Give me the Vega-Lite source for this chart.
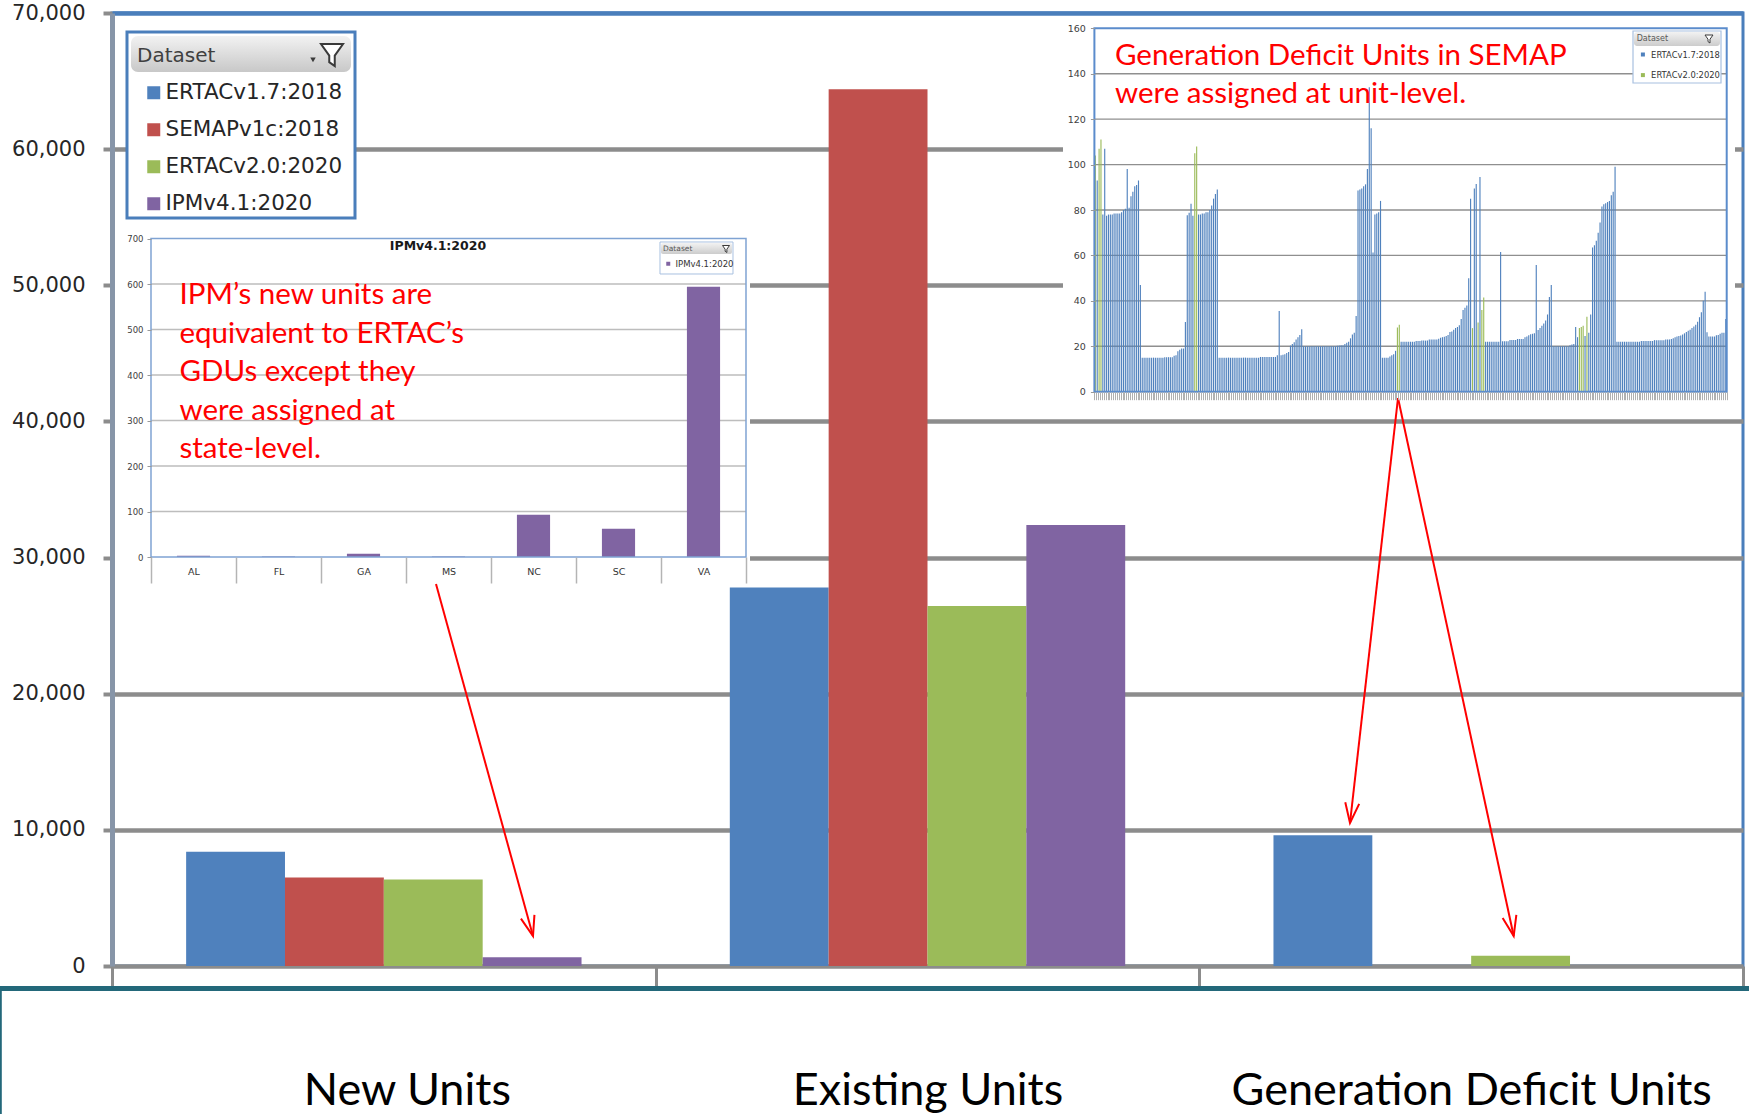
{
  "$schema": "https://vega.github.io/schema/vega-lite/v6.json",
  "width": 1631,
  "height": 953,
  "autosize": {"type": "none"},
  "padding": {"left": 112, "top": 13, "right": 6, "bottom": 148},
  "background": "#ffffff",
  "config": {
    "view": {"stroke": "#4a7ebb", "strokeWidth": 3},
    "font": "DejaVu Sans"
  },
  "data": {"values": [{}]},
  "datasets": {
    "summary": [
      {"category": "New Units", "dataset": "ERTACv1.7:2018", "value": 8400},
      {"category": "New Units", "dataset": "SEMAPv1c:2018", "value": 6500},
      {"category": "New Units", "dataset": "ERTACv2.0:2020", "value": 6350},
      {"category": "New Units", "dataset": "IPMv4.1:2020", "value": 650},
      {"category": "Existing Units", "dataset": "ERTACv1.7:2018", "value": 27800},
      {"category": "Existing Units", "dataset": "SEMAPv1c:2018", "value": 64400},
      {"category": "Existing Units", "dataset": "ERTACv2.0:2020", "value": 26450},
      {"category": "Existing Units", "dataset": "IPMv4.1:2020", "value": 32400},
      {"category": "Generation Deficit Units", "dataset": "ERTACv1.7:2018", "value": 9600},
      {"category": "Generation Deficit Units", "dataset": "ERTACv2.0:2020", "value": 750}
    ],
    "ipmByState": [
      {"state": "AL", "dataset": "IPMv4.1:2020", "value": 3},
      {"state": "FL", "dataset": "IPMv4.1:2020", "value": 1},
      {"state": "GA", "dataset": "IPMv4.1:2020", "value": 7},
      {"state": "MS", "dataset": "IPMv4.1:2020", "value": 1},
      {"state": "NC", "dataset": "IPMv4.1:2020", "value": 93},
      {"state": "SC", "dataset": "IPMv4.1:2020", "value": 62},
      {"state": "VA", "dataset": "IPMv4.1:2020", "value": 594}
    ],
    "ipmGrid": [{"tick": 100}, {"tick": 200}, {"tick": 300}, {"tick": 400}, {"tick": 500}, {"tick": 600}],
    "gduGrid": [{"tick": 20}, {"tick": 40}, {"tick": 60}, {"tick": 80}, {"tick": 100}, {"tick": 120}, {"tick": 140}],
    "gduByUnit": [
      {"unit": 1, "dataset": "ERTACv2.0:2020", "value": 104},
      {"unit": 2, "dataset": "ERTACv1.7:2018", "value": 93},
      {"unit": 3, "dataset": "ERTACv2.0:2020", "value": 107},
      {"unit": 4, "dataset": "ERTACv2.0:2020", "value": 111},
      {"unit": 5, "dataset": "ERTACv1.7:2018", "value": 78},
      {"unit": 6, "dataset": "ERTACv1.7:2018", "value": 107},
      {"unit": 7, "dataset": "ERTACv1.7:2018", "value": 77.5},
      {"unit": 8, "dataset": "ERTACv1.7:2018", "value": 78},
      {"unit": 9, "dataset": "ERTACv1.7:2018", "value": 78},
      {"unit": 10, "dataset": "ERTACv1.7:2018", "value": 78},
      {"unit": 11, "dataset": "ERTACv1.7:2018", "value": 78.5},
      {"unit": 12, "dataset": "ERTACv1.7:2018", "value": 78.5},
      {"unit": 13, "dataset": "ERTACv1.7:2018", "value": 78.5},
      {"unit": 14, "dataset": "ERTACv1.7:2018", "value": 78.5},
      {"unit": 15, "dataset": "ERTACv1.7:2018", "value": 79},
      {"unit": 16, "dataset": "ERTACv1.7:2018", "value": 80},
      {"unit": 17, "dataset": "ERTACv1.7:2018", "value": 80.5},
      {"unit": 18, "dataset": "ERTACv1.7:2018", "value": 98},
      {"unit": 19, "dataset": "ERTACv1.7:2018", "value": 81},
      {"unit": 20, "dataset": "ERTACv1.7:2018", "value": 86},
      {"unit": 21, "dataset": "ERTACv1.7:2018", "value": 88},
      {"unit": 22, "dataset": "ERTACv1.7:2018", "value": 90.5},
      {"unit": 23, "dataset": "ERTACv1.7:2018", "value": 91},
      {"unit": 24, "dataset": "ERTACv1.7:2018", "value": 93},
      {"unit": 25, "dataset": "ERTACv1.7:2018", "value": 47},
      {"unit": 26, "dataset": "ERTACv1.7:2018", "value": 15},
      {"unit": 27, "dataset": "ERTACv1.7:2018", "value": 15},
      {"unit": 28, "dataset": "ERTACv1.7:2018", "value": 15},
      {"unit": 29, "dataset": "ERTACv1.7:2018", "value": 15},
      {"unit": 30, "dataset": "ERTACv1.7:2018", "value": 15},
      {"unit": 31, "dataset": "ERTACv1.7:2018", "value": 15},
      {"unit": 32, "dataset": "ERTACv1.7:2018", "value": 15},
      {"unit": 33, "dataset": "ERTACv1.7:2018", "value": 15},
      {"unit": 34, "dataset": "ERTACv1.7:2018", "value": 15},
      {"unit": 35, "dataset": "ERTACv1.7:2018", "value": 15},
      {"unit": 36, "dataset": "ERTACv1.7:2018", "value": 15},
      {"unit": 37, "dataset": "ERTACv1.7:2018", "value": 15},
      {"unit": 38, "dataset": "ERTACv1.7:2018", "value": 15.2},
      {"unit": 39, "dataset": "ERTACv1.7:2018", "value": 15.2},
      {"unit": 40, "dataset": "ERTACv1.7:2018", "value": 15.2},
      {"unit": 41, "dataset": "ERTACv1.7:2018", "value": 15.2},
      {"unit": 42, "dataset": "ERTACv1.7:2018", "value": 15.2},
      {"unit": 43, "dataset": "ERTACv1.7:2018", "value": 15.8},
      {"unit": 44, "dataset": "ERTACv1.7:2018", "value": 16},
      {"unit": 45, "dataset": "ERTACv1.7:2018", "value": 17.8},
      {"unit": 46, "dataset": "ERTACv1.7:2018", "value": 18.5},
      {"unit": 47, "dataset": "ERTACv1.7:2018", "value": 19},
      {"unit": 48, "dataset": "ERTACv1.7:2018", "value": 19},
      {"unit": 49, "dataset": "ERTACv1.7:2018", "value": 30.7},
      {"unit": 50, "dataset": "ERTACv1.7:2018", "value": 77.7},
      {"unit": 51, "dataset": "ERTACv1.7:2018", "value": 78.8},
      {"unit": 52, "dataset": "ERTACv1.7:2018", "value": 82.7},
      {"unit": 53, "dataset": "ERTACv1.7:2018", "value": 77.5},
      {"unit": 54, "dataset": "ERTACv2.0:2020", "value": 105},
      {"unit": 55, "dataset": "ERTACv2.0:2020", "value": 108},
      {"unit": 56, "dataset": "ERTACv1.7:2018", "value": 78},
      {"unit": 57, "dataset": "ERTACv1.7:2018", "value": 78},
      {"unit": 58, "dataset": "ERTACv1.7:2018", "value": 78.5},
      {"unit": 59, "dataset": "ERTACv1.7:2018", "value": 78.5},
      {"unit": 60, "dataset": "ERTACv1.7:2018", "value": 79},
      {"unit": 61, "dataset": "ERTACv1.7:2018", "value": 79},
      {"unit": 62, "dataset": "ERTACv1.7:2018", "value": 80},
      {"unit": 63, "dataset": "ERTACv1.7:2018", "value": 82},
      {"unit": 64, "dataset": "ERTACv1.7:2018", "value": 85},
      {"unit": 65, "dataset": "ERTACv1.7:2018", "value": 87},
      {"unit": 66, "dataset": "ERTACv1.7:2018", "value": 89},
      {"unit": 67, "dataset": "ERTACv1.7:2018", "value": 15},
      {"unit": 68, "dataset": "ERTACv1.7:2018", "value": 15},
      {"unit": 69, "dataset": "ERTACv1.7:2018", "value": 15},
      {"unit": 70, "dataset": "ERTACv1.7:2018", "value": 15},
      {"unit": 71, "dataset": "ERTACv1.7:2018", "value": 15},
      {"unit": 72, "dataset": "ERTACv1.7:2018", "value": 15},
      {"unit": 73, "dataset": "ERTACv1.7:2018", "value": 15},
      {"unit": 74, "dataset": "ERTACv1.7:2018", "value": 15},
      {"unit": 75, "dataset": "ERTACv1.7:2018", "value": 15},
      {"unit": 76, "dataset": "ERTACv1.7:2018", "value": 15},
      {"unit": 77, "dataset": "ERTACv1.7:2018", "value": 15},
      {"unit": 78, "dataset": "ERTACv1.7:2018", "value": 15},
      {"unit": 79, "dataset": "ERTACv1.7:2018", "value": 15},
      {"unit": 80, "dataset": "ERTACv1.7:2018", "value": 15},
      {"unit": 81, "dataset": "ERTACv1.7:2018", "value": 15},
      {"unit": 82, "dataset": "ERTACv1.7:2018", "value": 15},
      {"unit": 83, "dataset": "ERTACv1.7:2018", "value": 15},
      {"unit": 84, "dataset": "ERTACv1.7:2018", "value": 15},
      {"unit": 85, "dataset": "ERTACv1.7:2018", "value": 15},
      {"unit": 86, "dataset": "ERTACv1.7:2018", "value": 15},
      {"unit": 87, "dataset": "ERTACv1.7:2018", "value": 15},
      {"unit": 88, "dataset": "ERTACv1.7:2018", "value": 15},
      {"unit": 89, "dataset": "ERTACv1.7:2018", "value": 15.3},
      {"unit": 90, "dataset": "ERTACv1.7:2018", "value": 15.3},
      {"unit": 91, "dataset": "ERTACv1.7:2018", "value": 15.3},
      {"unit": 92, "dataset": "ERTACv1.7:2018", "value": 15.3},
      {"unit": 93, "dataset": "ERTACv1.7:2018", "value": 15.3},
      {"unit": 94, "dataset": "ERTACv1.7:2018", "value": 15.3},
      {"unit": 95, "dataset": "ERTACv1.7:2018", "value": 15.3},
      {"unit": 96, "dataset": "ERTACv1.7:2018", "value": 15.3},
      {"unit": 97, "dataset": "ERTACv1.7:2018", "value": 15.3},
      {"unit": 98, "dataset": "ERTACv1.7:2018", "value": 16},
      {"unit": 99, "dataset": "ERTACv1.7:2018", "value": 35.5},
      {"unit": 100, "dataset": "ERTACv1.7:2018", "value": 16},
      {"unit": 101, "dataset": "ERTACv1.7:2018", "value": 16.3},
      {"unit": 102, "dataset": "ERTACv1.7:2018", "value": 16.5},
      {"unit": 103, "dataset": "ERTACv1.7:2018", "value": 17},
      {"unit": 104, "dataset": "ERTACv1.7:2018", "value": 17.5},
      {"unit": 105, "dataset": "ERTACv1.7:2018", "value": 20.3},
      {"unit": 106, "dataset": "ERTACv1.7:2018", "value": 21},
      {"unit": 107, "dataset": "ERTACv1.7:2018", "value": 21.8},
      {"unit": 108, "dataset": "ERTACv1.7:2018", "value": 23},
      {"unit": 109, "dataset": "ERTACv1.7:2018", "value": 24},
      {"unit": 110, "dataset": "ERTACv1.7:2018", "value": 25},
      {"unit": 111, "dataset": "ERTACv1.7:2018", "value": 27.5},
      {"unit": 112, "dataset": "ERTACv1.7:2018", "value": 20},
      {"unit": 113, "dataset": "ERTACv1.7:2018", "value": 20},
      {"unit": 114, "dataset": "ERTACv1.7:2018", "value": 20},
      {"unit": 115, "dataset": "ERTACv1.7:2018", "value": 20},
      {"unit": 116, "dataset": "ERTACv1.7:2018", "value": 20},
      {"unit": 117, "dataset": "ERTACv1.7:2018", "value": 20},
      {"unit": 118, "dataset": "ERTACv1.7:2018", "value": 20},
      {"unit": 119, "dataset": "ERTACv1.7:2018", "value": 20},
      {"unit": 120, "dataset": "ERTACv1.7:2018", "value": 20},
      {"unit": 121, "dataset": "ERTACv1.7:2018", "value": 20},
      {"unit": 122, "dataset": "ERTACv1.7:2018", "value": 20},
      {"unit": 123, "dataset": "ERTACv1.7:2018", "value": 20},
      {"unit": 124, "dataset": "ERTACv1.7:2018", "value": 20},
      {"unit": 125, "dataset": "ERTACv1.7:2018", "value": 20},
      {"unit": 126, "dataset": "ERTACv1.7:2018", "value": 20},
      {"unit": 127, "dataset": "ERTACv1.7:2018", "value": 20},
      {"unit": 128, "dataset": "ERTACv1.7:2018", "value": 20},
      {"unit": 129, "dataset": "ERTACv1.7:2018", "value": 20},
      {"unit": 130, "dataset": "ERTACv1.7:2018", "value": 20.2},
      {"unit": 131, "dataset": "ERTACv1.7:2018", "value": 20.3},
      {"unit": 132, "dataset": "ERTACv1.7:2018", "value": 20.4},
      {"unit": 133, "dataset": "ERTACv1.7:2018", "value": 20.5},
      {"unit": 134, "dataset": "ERTACv1.7:2018", "value": 21},
      {"unit": 135, "dataset": "ERTACv1.7:2018", "value": 21.5},
      {"unit": 136, "dataset": "ERTACv1.7:2018", "value": 22},
      {"unit": 137, "dataset": "ERTACv1.7:2018", "value": 23.5},
      {"unit": 138, "dataset": "ERTACv1.7:2018", "value": 25.2},
      {"unit": 139, "dataset": "ERTACv1.7:2018", "value": 26},
      {"unit": 140, "dataset": "ERTACv1.7:2018", "value": 33.3},
      {"unit": 141, "dataset": "ERTACv1.7:2018", "value": 88.6},
      {"unit": 142, "dataset": "ERTACv1.7:2018", "value": 89},
      {"unit": 143, "dataset": "ERTACv1.7:2018", "value": 89.5},
      {"unit": 144, "dataset": "ERTACv1.7:2018", "value": 90.5},
      {"unit": 145, "dataset": "ERTACv1.7:2018", "value": 91.3},
      {"unit": 146, "dataset": "ERTACv1.7:2018", "value": 98},
      {"unit": 147, "dataset": "ERTACv1.7:2018", "value": 134},
      {"unit": 148, "dataset": "ERTACv1.7:2018", "value": 116},
      {"unit": 149, "dataset": "ERTACv1.7:2018", "value": 61.3},
      {"unit": 150, "dataset": "ERTACv1.7:2018", "value": 78},
      {"unit": 151, "dataset": "ERTACv1.7:2018", "value": 78.5},
      {"unit": 152, "dataset": "ERTACv1.7:2018", "value": 79},
      {"unit": 153, "dataset": "ERTACv1.7:2018", "value": 84},
      {"unit": 154, "dataset": "ERTACv1.7:2018", "value": 15},
      {"unit": 155, "dataset": "ERTACv1.7:2018", "value": 15},
      {"unit": 156, "dataset": "ERTACv1.7:2018", "value": 15},
      {"unit": 157, "dataset": "ERTACv1.7:2018", "value": 15},
      {"unit": 158, "dataset": "ERTACv1.7:2018", "value": 15.5},
      {"unit": 159, "dataset": "ERTACv1.7:2018", "value": 16},
      {"unit": 160, "dataset": "ERTACv1.7:2018", "value": 16.5},
      {"unit": 161, "dataset": "ERTACv1.7:2018", "value": 18},
      {"unit": 162, "dataset": "ERTACv2.0:2020", "value": 28.3},
      {"unit": 163, "dataset": "ERTACv2.0:2020", "value": 29.5},
      {"unit": 164, "dataset": "ERTACv1.7:2018", "value": 22},
      {"unit": 165, "dataset": "ERTACv1.7:2018", "value": 22},
      {"unit": 166, "dataset": "ERTACv1.7:2018", "value": 22},
      {"unit": 167, "dataset": "ERTACv1.7:2018", "value": 22},
      {"unit": 168, "dataset": "ERTACv1.7:2018", "value": 22},
      {"unit": 169, "dataset": "ERTACv1.7:2018", "value": 22},
      {"unit": 170, "dataset": "ERTACv1.7:2018", "value": 22},
      {"unit": 171, "dataset": "ERTACv1.7:2018", "value": 22},
      {"unit": 172, "dataset": "ERTACv1.7:2018", "value": 22.3},
      {"unit": 173, "dataset": "ERTACv1.7:2018", "value": 22.3},
      {"unit": 174, "dataset": "ERTACv1.7:2018", "value": 22.3},
      {"unit": 175, "dataset": "ERTACv1.7:2018", "value": 22.5},
      {"unit": 176, "dataset": "ERTACv1.7:2018", "value": 22.5},
      {"unit": 177, "dataset": "ERTACv1.7:2018", "value": 22.5},
      {"unit": 178, "dataset": "ERTACv1.7:2018", "value": 22.5},
      {"unit": 179, "dataset": "ERTACv1.7:2018", "value": 23},
      {"unit": 180, "dataset": "ERTACv1.7:2018", "value": 23},
      {"unit": 181, "dataset": "ERTACv1.7:2018", "value": 23},
      {"unit": 182, "dataset": "ERTACv1.7:2018", "value": 23},
      {"unit": 183, "dataset": "ERTACv1.7:2018", "value": 23},
      {"unit": 184, "dataset": "ERTACv1.7:2018", "value": 23.3},
      {"unit": 185, "dataset": "ERTACv1.7:2018", "value": 23.7},
      {"unit": 186, "dataset": "ERTACv1.7:2018", "value": 24},
      {"unit": 187, "dataset": "ERTACv1.7:2018", "value": 24.2},
      {"unit": 188, "dataset": "ERTACv1.7:2018", "value": 24.5},
      {"unit": 189, "dataset": "ERTACv1.7:2018", "value": 25},
      {"unit": 190, "dataset": "ERTACv1.7:2018", "value": 26.3},
      {"unit": 191, "dataset": "ERTACv1.7:2018", "value": 26.5},
      {"unit": 192, "dataset": "ERTACv1.7:2018", "value": 27.3},
      {"unit": 193, "dataset": "ERTACv1.7:2018", "value": 28},
      {"unit": 194, "dataset": "ERTACv1.7:2018", "value": 28.5},
      {"unit": 195, "dataset": "ERTACv1.7:2018", "value": 29.3},
      {"unit": 196, "dataset": "ERTACv1.7:2018", "value": 32},
      {"unit": 197, "dataset": "ERTACv1.7:2018", "value": 36},
      {"unit": 198, "dataset": "ERTACv1.7:2018", "value": 37},
      {"unit": 199, "dataset": "ERTACv1.7:2018", "value": 38},
      {"unit": 200, "dataset": "ERTACv1.7:2018", "value": 50},
      {"unit": 201, "dataset": "ERTACv1.7:2018", "value": 85},
      {"unit": 202, "dataset": "ERTACv2.0:2020", "value": 28},
      {"unit": 203, "dataset": "ERTACv1.7:2018", "value": 89.5},
      {"unit": 204, "dataset": "ERTACv1.7:2018", "value": 91.5},
      {"unit": 205, "dataset": "ERTACv2.0:2020", "value": 30.5},
      {"unit": 206, "dataset": "ERTACv1.7:2018", "value": 94.5},
      {"unit": 207, "dataset": "ERTACv2.0:2020", "value": 36},
      {"unit": 208, "dataset": "ERTACv2.0:2020", "value": 41.5},
      {"unit": 209, "dataset": "ERTACv1.7:2018", "value": 22},
      {"unit": 210, "dataset": "ERTACv1.7:2018", "value": 22},
      {"unit": 211, "dataset": "ERTACv1.7:2018", "value": 22},
      {"unit": 212, "dataset": "ERTACv1.7:2018", "value": 22},
      {"unit": 213, "dataset": "ERTACv1.7:2018", "value": 22},
      {"unit": 214, "dataset": "ERTACv1.7:2018", "value": 22},
      {"unit": 215, "dataset": "ERTACv1.7:2018", "value": 22},
      {"unit": 216, "dataset": "ERTACv1.7:2018", "value": 22},
      {"unit": 217, "dataset": "ERTACv1.7:2018", "value": 61.5},
      {"unit": 218, "dataset": "ERTACv1.7:2018", "value": 22.2},
      {"unit": 219, "dataset": "ERTACv1.7:2018", "value": 22.2},
      {"unit": 220, "dataset": "ERTACv1.7:2018", "value": 22.2},
      {"unit": 221, "dataset": "ERTACv1.7:2018", "value": 22.2},
      {"unit": 222, "dataset": "ERTACv1.7:2018", "value": 22.8},
      {"unit": 223, "dataset": "ERTACv1.7:2018", "value": 22.8},
      {"unit": 224, "dataset": "ERTACv1.7:2018", "value": 22.8},
      {"unit": 225, "dataset": "ERTACv1.7:2018", "value": 22.8},
      {"unit": 226, "dataset": "ERTACv1.7:2018", "value": 23.2},
      {"unit": 227, "dataset": "ERTACv1.7:2018", "value": 23.2},
      {"unit": 228, "dataset": "ERTACv1.7:2018", "value": 23.2},
      {"unit": 229, "dataset": "ERTACv1.7:2018", "value": 23.2},
      {"unit": 230, "dataset": "ERTACv1.7:2018", "value": 24},
      {"unit": 231, "dataset": "ERTACv1.7:2018", "value": 24.3},
      {"unit": 232, "dataset": "ERTACv1.7:2018", "value": 24.8},
      {"unit": 233, "dataset": "ERTACv1.7:2018", "value": 25.3},
      {"unit": 234, "dataset": "ERTACv1.7:2018", "value": 25.5},
      {"unit": 235, "dataset": "ERTACv1.7:2018", "value": 25.7},
      {"unit": 236, "dataset": "ERTACv1.7:2018", "value": 55.8},
      {"unit": 237, "dataset": "ERTACv1.7:2018", "value": 27.2},
      {"unit": 238, "dataset": "ERTACv1.7:2018", "value": 28},
      {"unit": 239, "dataset": "ERTACv1.7:2018", "value": 29},
      {"unit": 240, "dataset": "ERTACv1.7:2018", "value": 30},
      {"unit": 241, "dataset": "ERTACv1.7:2018", "value": 31.3},
      {"unit": 242, "dataset": "ERTACv1.7:2018", "value": 34},
      {"unit": 243, "dataset": "ERTACv1.7:2018", "value": 41.7},
      {"unit": 244, "dataset": "ERTACv1.7:2018", "value": 47},
      {"unit": 245, "dataset": "ERTACv1.7:2018", "value": 20},
      {"unit": 246, "dataset": "ERTACv1.7:2018", "value": 20},
      {"unit": 247, "dataset": "ERTACv1.7:2018", "value": 20},
      {"unit": 248, "dataset": "ERTACv1.7:2018", "value": 20},
      {"unit": 249, "dataset": "ERTACv1.7:2018", "value": 20},
      {"unit": 250, "dataset": "ERTACv1.7:2018", "value": 20},
      {"unit": 251, "dataset": "ERTACv1.7:2018", "value": 20},
      {"unit": 252, "dataset": "ERTACv1.7:2018", "value": 20},
      {"unit": 253, "dataset": "ERTACv1.7:2018", "value": 20},
      {"unit": 254, "dataset": "ERTACv1.7:2018", "value": 20.4},
      {"unit": 255, "dataset": "ERTACv1.7:2018", "value": 20.8},
      {"unit": 256, "dataset": "ERTACv1.7:2018", "value": 21},
      {"unit": 257, "dataset": "ERTACv1.7:2018", "value": 28.5},
      {"unit": 258, "dataset": "ERTACv1.7:2018", "value": 24},
      {"unit": 259, "dataset": "ERTACv2.0:2020", "value": 28},
      {"unit": 260, "dataset": "ERTACv2.0:2020", "value": 28.5},
      {"unit": 261, "dataset": "ERTACv2.0:2020", "value": 29},
      {"unit": 262, "dataset": "ERTACv1.7:2018", "value": 24.5},
      {"unit": 263, "dataset": "ERTACv2.0:2020", "value": 33},
      {"unit": 264, "dataset": "ERTACv1.7:2018", "value": 26},
      {"unit": 265, "dataset": "ERTACv1.7:2018", "value": 34},
      {"unit": 266, "dataset": "ERTACv1.7:2018", "value": 63.5},
      {"unit": 267, "dataset": "ERTACv1.7:2018", "value": 64.5},
      {"unit": 268, "dataset": "ERTACv1.7:2018", "value": 66.5},
      {"unit": 269, "dataset": "ERTACv1.7:2018", "value": 70},
      {"unit": 270, "dataset": "ERTACv1.7:2018", "value": 74.5},
      {"unit": 271, "dataset": "ERTACv1.7:2018", "value": 81.5},
      {"unit": 272, "dataset": "ERTACv1.7:2018", "value": 82.5},
      {"unit": 273, "dataset": "ERTACv1.7:2018", "value": 83},
      {"unit": 274, "dataset": "ERTACv1.7:2018", "value": 83.5},
      {"unit": 275, "dataset": "ERTACv1.7:2018", "value": 84},
      {"unit": 276, "dataset": "ERTACv1.7:2018", "value": 86.5},
      {"unit": 277, "dataset": "ERTACv1.7:2018", "value": 88},
      {"unit": 278, "dataset": "ERTACv1.7:2018", "value": 99},
      {"unit": 279, "dataset": "ERTACv1.7:2018", "value": 22},
      {"unit": 280, "dataset": "ERTACv1.7:2018", "value": 22},
      {"unit": 281, "dataset": "ERTACv1.7:2018", "value": 22},
      {"unit": 282, "dataset": "ERTACv1.7:2018", "value": 22},
      {"unit": 283, "dataset": "ERTACv1.7:2018", "value": 22},
      {"unit": 284, "dataset": "ERTACv1.7:2018", "value": 22},
      {"unit": 285, "dataset": "ERTACv1.7:2018", "value": 22},
      {"unit": 286, "dataset": "ERTACv1.7:2018", "value": 22},
      {"unit": 287, "dataset": "ERTACv1.7:2018", "value": 22},
      {"unit": 288, "dataset": "ERTACv1.7:2018", "value": 22},
      {"unit": 289, "dataset": "ERTACv1.7:2018", "value": 22},
      {"unit": 290, "dataset": "ERTACv1.7:2018", "value": 22},
      {"unit": 291, "dataset": "ERTACv1.7:2018", "value": 22},
      {"unit": 292, "dataset": "ERTACv1.7:2018", "value": 22.3},
      {"unit": 293, "dataset": "ERTACv1.7:2018", "value": 22.3},
      {"unit": 294, "dataset": "ERTACv1.7:2018", "value": 22.3},
      {"unit": 295, "dataset": "ERTACv1.7:2018", "value": 22.3},
      {"unit": 296, "dataset": "ERTACv1.7:2018", "value": 22.3},
      {"unit": 297, "dataset": "ERTACv1.7:2018", "value": 22.3},
      {"unit": 298, "dataset": "ERTACv1.7:2018", "value": 22.3},
      {"unit": 299, "dataset": "ERTACv1.7:2018", "value": 22.7},
      {"unit": 300, "dataset": "ERTACv1.7:2018", "value": 22.7},
      {"unit": 301, "dataset": "ERTACv1.7:2018", "value": 22.7},
      {"unit": 302, "dataset": "ERTACv1.7:2018", "value": 22.7},
      {"unit": 303, "dataset": "ERTACv1.7:2018", "value": 22.7},
      {"unit": 304, "dataset": "ERTACv1.7:2018", "value": 22.7},
      {"unit": 305, "dataset": "ERTACv1.7:2018", "value": 23},
      {"unit": 306, "dataset": "ERTACv1.7:2018", "value": 23},
      {"unit": 307, "dataset": "ERTACv1.7:2018", "value": 23},
      {"unit": 308, "dataset": "ERTACv1.7:2018", "value": 23.2},
      {"unit": 309, "dataset": "ERTACv1.7:2018", "value": 23.5},
      {"unit": 310, "dataset": "ERTACv1.7:2018", "value": 24},
      {"unit": 311, "dataset": "ERTACv1.7:2018", "value": 24.3},
      {"unit": 312, "dataset": "ERTACv1.7:2018", "value": 24.5},
      {"unit": 313, "dataset": "ERTACv1.7:2018", "value": 24.7},
      {"unit": 314, "dataset": "ERTACv1.7:2018", "value": 25.2},
      {"unit": 315, "dataset": "ERTACv1.7:2018", "value": 25.7},
      {"unit": 316, "dataset": "ERTACv1.7:2018", "value": 26.3},
      {"unit": 317, "dataset": "ERTACv1.7:2018", "value": 26.8},
      {"unit": 318, "dataset": "ERTACv1.7:2018", "value": 27.3},
      {"unit": 319, "dataset": "ERTACv1.7:2018", "value": 28},
      {"unit": 320, "dataset": "ERTACv1.7:2018", "value": 28.7},
      {"unit": 321, "dataset": "ERTACv1.7:2018", "value": 29.5},
      {"unit": 322, "dataset": "ERTACv1.7:2018", "value": 30.8},
      {"unit": 323, "dataset": "ERTACv1.7:2018", "value": 32.8},
      {"unit": 324, "dataset": "ERTACv1.7:2018", "value": 35},
      {"unit": 325, "dataset": "ERTACv1.7:2018", "value": 40},
      {"unit": 326, "dataset": "ERTACv1.7:2018", "value": 44},
      {"unit": 327, "dataset": "ERTACv1.7:2018", "value": 26.2},
      {"unit": 328, "dataset": "ERTACv1.7:2018", "value": 24.3},
      {"unit": 329, "dataset": "ERTACv1.7:2018", "value": 24.3},
      {"unit": 330, "dataset": "ERTACv1.7:2018", "value": 24.3},
      {"unit": 331, "dataset": "ERTACv1.7:2018", "value": 24.3},
      {"unit": 332, "dataset": "ERTACv1.7:2018", "value": 24.8},
      {"unit": 333, "dataset": "ERTACv1.7:2018", "value": 25},
      {"unit": 334, "dataset": "ERTACv1.7:2018", "value": 25.5},
      {"unit": 335, "dataset": "ERTACv1.7:2018", "value": 26},
      {"unit": 336, "dataset": "ERTACv1.7:2018", "value": 26},
      {"unit": 337, "dataset": "ERTACv1.7:2018", "value": 32}
    ]
  },
  "resolve": {
    "scale": {"x": "independent", "y": "independent", "color": "independent", "xOffset": "independent"},
    "axis": {"x": "independent", "y": "independent"},
    "legend": {"color": "independent"}
  },
  "layer": [
    {
      "data": {"name": "summary"},
      "mark": {"type": "bar"},
      "encoding": {
        "x": {
          "field": "category", "type": "nominal",
          "scale": {"domain": ["New Units", "Existing Units", "Generation Deficit Units"], "paddingInner": 0, "paddingOuter": 0},
          "axis": {
            "title": null, "domain": false, "grid": false, "labelAngle": 0,
            "labelFont": "Lato", "labelFontSize": 45, "labelColor": "#000000", "labelLimit": 700,
            "labelPadding": 82,
            "labelOffset": {"condition": {"test": "datum.value === 'New Units'", "value": 23}, "value": 0},
            "tickBand": "extent", "tickSize": 20, "tickWidth": 3, "tickColor": "#8c8c8c"
          }
        },
        "xOffset": {
          "field": "dataset", "type": "nominal",
          "scale": {"domain": ["ERTACv1.7:2018", "SEMAPv1c:2018", "ERTACv2.0:2020", "IPMv4.1:2020"], "paddingInner": 0, "paddingOuter": 0.75}
        },
        "y": {
          "field": "value", "type": "quantitative",
          "scale": {"domain": [0, 70000], "nice": false},
          "axis": {
            "title": null, "values": [0, 10000, 20000, 30000, 40000, 50000, 60000, 70000], "format": ",d",
            "labelFont": "DejaVu Sans", "labelFontSize": 21, "labelColor": "#262626", "labelPadding": 18,
            "tickSize": 9, "tickWidth": 4, "tickColor": "#8c8c8c",
            "domainColor": "#8795a8", "domainWidth": 5,
            "grid": true, "gridWidth": 4.5,
            "gridColor": {"condition": {"test": "datum.value === 70000", "value": "#4a7ebb"}, "value": "#8c8c8c"}
          }
        },
        "color": {
          "field": "dataset", "type": "nominal",
          "scale": {"domain": ["ERTACv1.7:2018", "SEMAPv1c:2018", "ERTACv2.0:2020", "IPMv4.1:2020"], "range": ["#4f81bd", "#c0504d", "#9bbb59", "#8064a2"]},
          "legend": {
            "orient": "none", "legendX": 25, "legendY": 33, "padding": 0,
            "title": "Dataset", "titleFont": "DejaVu Sans", "titleFontSize": 20, "titleFontWeight": "normal", "titleColor": "#404040", "titlePadding": 16,
            "labelFont": "DejaVu Sans", "labelFontSize": 21.5, "labelColor": "#262626", "labelOffset": 1, "labelLimit": 400,
            "symbolType": "square", "symbolSize": 169, "symbolOffset": 6, "symbolStrokeWidth": 0, "rowPadding": 14
          }
        }
      }
    },
    {
      "layer": [
        {
          "mark": {"type": "rect", "fill": "#ffffff", "stroke": "#4a7ebb", "strokeWidth": 3},
          "encoding": {
            "x": {"datum": 0.02759, "type": "quantitative", "scale": {"domain": [0, 3]}, "axis": null},
            "x2": {"datum": 0.44697},
            "y": {"datum": 68604, "type": "quantitative", "scale": {"domain": [0, 70000]}, "axis": null},
            "y2": {"datum": 54942}
          }
        },
        {
          "mark": {"type": "rect", "fill": "#ffffff"},
          "encoding": {
            "x": {"datum": 0.00552, "type": "quantitative", "scale": {"domain": [0, 3]}, "axis": null},
            "x2": {"datum": 1.17351},
            "y": {"datum": 54428, "type": "quantitative", "scale": {"domain": [0, 70000]}, "axis": null},
            "y2": {"datum": 28350}
          }
        },
        {
          "mark": {"type": "rect", "fill": "#ffffff"},
          "encoding": {
            "x": {"datum": 1.74924, "type": "quantitative", "scale": {"domain": [0, 3]}, "axis": null},
            "x2": {"datum": 2.98528},
            "y": {"datum": 69780, "type": "quantitative", "scale": {"domain": [0, 70000]}, "axis": null},
            "y2": {"datum": 40840}
          }
        }
      ]
    },
    {
      "data": {"name": "ipmGrid"},
      "mark": {"type": "rule", "color": "#bdbdbd", "strokeWidth": 1.5},
      "encoding": {
        "x": {"datum": 0.07173, "type": "quantitative", "scale": {"domain": [0, 3]}, "axis": null},
        "x2": {"datum": 1.16615},
        "y": {"field": "tick", "type": "quantitative", "scale": {"domain": [0, 700], "range": [544, 225.5]}, "axis": null}
      }
    },
    {
      "data": {"name": "gduGrid"},
      "mark": {"type": "rule", "color": "#8f8f8f", "strokeWidth": 1.3},
      "encoding": {
        "x": {"datum": 1.80699, "type": "quantitative", "scale": {"domain": [0, 3]}, "axis": null},
        "x2": {"datum": 2.97004},
        "y": {"field": "tick", "type": "quantitative", "scale": {"domain": [0, 160], "range": [378.7, 15.3]}, "axis": null}
      }
    },
    {
      "data": {"name": "ipmByState"},
      "mark": {"type": "bar", "width": {"band": 0.39}},
      "encoding": {
        "x": {
          "field": "state", "type": "nominal",
          "scale": {"domain": ["AL", "FL", "GA", "MS", "NC", "SC", "VA"], "range": [39, 634], "paddingInner": 0, "paddingOuter": 0},
          "axis": {
            "orient": "bottom", "offset": -409, "zindex": 1, "title": null, "domain": false, "grid": false, "labelAngle": 0,
            "labelFont": "DejaVu Sans", "labelFontSize": 9.5, "labelColor": "#333333", "labelPadding": -17,
            "tickBand": "extent", "tickSize": 26, "tickWidth": 1.5, "tickColor": "#b4b4b4"
          }
        },
        "y": {
          "field": "value", "type": "quantitative",
          "scale": {"domain": [0, 700], "range": [544, 225.5]},
          "axis": {
            "orient": "left", "offset": -39, "zindex": 1, "title": null, "domain": false, "grid": false,
            "values": [0, 100, 200, 300, 400, 500, 600, 700],
            "labelFont": "DejaVu Sans", "labelFontSize": 8.5, "labelColor": "#404040", "labelPadding": 4,
            "tickSize": 4, "tickWidth": 1, "tickColor": "#999999"
          }
        },
        "color": {
          "field": "dataset", "type": "nominal",
          "scale": {"domain": ["IPMv4.1:2020"], "range": ["#8064a2"]},
          "legend": {
            "orient": "none", "legendX": 551, "legendY": 232, "padding": 0,
            "title": "Dataset", "titleFont": "DejaVu Sans", "titleFontSize": 7.5, "titleFontWeight": "normal", "titleColor": "#595959", "titlePadding": 7,
            "labelFont": "DejaVu Sans", "labelFontSize": 8.5, "labelColor": "#333333", "labelOffset": 3,
            "symbolType": "square", "symbolSize": 16, "symbolOffset": 1, "symbolStrokeWidth": 0
          }
        }
      }
    },
    {
      "data": {"name": "gduByUnit"},
      "mark": {"type": "bar", "width": {"band": 0.6}},
      "encoding": {
        "x": {
          "field": "unit", "type": "ordinal",
          "scale": {"range": [982.4, 1614.7], "paddingInner": 0, "paddingOuter": 0},
          "axis": {
            "orient": "bottom", "offset": -574.3, "zindex": 1, "title": null, "domain": false, "grid": false, "labels": false,
            "tickBand": "extent", "tickSize": 8, "tickWidth": 1, "tickColor": "#b0b0b0"
          }
        },
        "y": {
          "field": "value", "type": "quantitative",
          "scale": {"domain": [0, 160], "range": [378.7, 15.3]},
          "axis": {
            "orient": "left", "offset": -982.4, "zindex": 1, "title": null, "domain": false, "grid": false,
            "values": [0, 20, 40, 60, 80, 100, 120, 140, 160],
            "labelFont": "DejaVu Sans", "labelFontSize": 9.5, "labelColor": "#404040", "labelPadding": 5,
            "tickSize": 4, "tickWidth": 1, "tickColor": "#999999"
          }
        },
        "color": {
          "field": "dataset", "type": "nominal",
          "scale": {"domain": ["ERTACv1.7:2018", "ERTACv2.0:2020"], "range": ["#4f81bd", "#9bbb59"]},
          "legend": {
            "orient": "none", "legendX": 1524.7, "legendY": 22.3, "padding": 0,
            "title": "Dataset", "titleFont": "DejaVu Sans", "titleFontSize": 8, "titleFontWeight": "normal", "titleColor": "#595959", "titlePadding": 7,
            "labelFont": "DejaVu Sans", "labelFontSize": 8.4, "labelColor": "#333333", "labelOffset": 4,
            "symbolType": "square", "symbolSize": 16, "symbolOffset": 2, "symbolStrokeWidth": 0, "rowPadding": 11.6
          }
        }
      }
    },
    {
      "layer": [
        {
          "mark": {"type": "rect", "fill": null, "stroke": "#7fa3d3", "strokeWidth": 1.5},
          "encoding": {
            "x": {"datum": 0.07173, "type": "quantitative", "scale": {"domain": [0, 3]}, "axis": null},
            "x2": {"datum": 1.16615},
            "y": {"datum": 53437, "type": "quantitative", "scale": {"domain": [0, 70000]}, "axis": null},
            "y2": {"datum": 30042}
          }
        },
        {
          "mark": {"type": "rect", "fill": null, "stroke": "#5b8ccc", "strokeWidth": 2},
          "encoding": {
            "x": {"datum": 1.80699, "type": "quantitative", "scale": {"domain": [0, 3]}, "axis": null},
            "x2": {"datum": 2.97004},
            "y": {"datum": 68876, "type": "quantitative", "scale": {"domain": [0, 70000]}, "axis": null},
            "y2": {"datum": 42184}
          }
        },
        {
          "mark": {"type": "rect", "cornerRadius": 7, "fill": {"gradient": "linear", "x1": 0, "y1": 0, "x2": 0, "y2": 1, "stops": [{"offset": 0, "color": "#f2f2f2"}, {"offset": 1, "color": "#c8c8c8"}]}},
          "encoding": {
            "x": {"datum": 0.03495, "type": "quantitative", "scale": {"domain": [0, 3]}, "axis": null},
            "x2": {"datum": 0.43961},
            "y": {"datum": 68311, "type": "quantitative", "scale": {"domain": [0, 70000]}, "axis": null},
            "y2": {"datum": 65666}
          }
        },
        {
          "mark": {"type": "rect", "fill": "#ffffff", "stroke": "#a8c0e0", "strokeWidth": 1},
          "encoding": {
            "x": {"datum": 1.00797, "type": "quantitative", "scale": {"domain": [0, 3]}, "axis": null},
            "x2": {"datum": 1.14224},
            "y": {"datum": 53180, "type": "quantitative", "scale": {"domain": [0, 70000]}, "axis": null},
            "y2": {"datum": 50829}
          }
        },
        {
          "mark": {"type": "rect", "cornerRadius": 2, "fill": {"gradient": "linear", "x1": 0, "y1": 0, "x2": 0, "y2": 1, "stops": [{"offset": 0, "color": "#f2f2f2"}, {"offset": 1, "color": "#cccccc"}]}},
          "encoding": {
            "x": {"datum": 1.00981, "type": "quantitative", "scale": {"domain": [0, 3]}, "axis": null},
            "x2": {"datum": 1.1404},
            "y": {"datum": 53106, "type": "quantitative", "scale": {"domain": [0, 70000]}, "axis": null},
            "y2": {"datum": 52298}
          }
        },
        {
          "mark": {"type": "rect", "fill": "#ffffff", "stroke": "#a8c0e0", "strokeWidth": 1.2},
          "encoding": {
            "x": {"datum": 2.79768, "type": "quantitative", "scale": {"domain": [0, 3]}, "axis": null},
            "x2": {"datum": 2.95954},
            "y": {"datum": 68678, "type": "quantitative", "scale": {"domain": [0, 70000]}, "axis": null},
            "y2": {"datum": 64858}
          }
        },
        {
          "mark": {"type": "rect", "cornerRadius": 3, "fill": {"gradient": "linear", "x1": 0, "y1": 0, "x2": 0, "y2": 1, "stops": [{"offset": 0, "color": "#f2f2f2"}, {"offset": 1, "color": "#cccccc"}]}},
          "encoding": {
            "x": {"datum": 2.79952, "type": "quantitative", "scale": {"domain": [0, 3]}, "axis": null},
            "x2": {"datum": 2.9577},
            "y": {"datum": 68604, "type": "quantitative", "scale": {"domain": [0, 70000]}, "axis": null},
            "y2": {"datum": 67576}
          }
        },
        {
          "mark": {"type": "point", "shape": "M-1,-1L1,-1L0.25,0.05L0.25,1L-0.25,0.65L-0.25,0.05Z", "size": 484, "filled": true, "fill": "#ffffff", "stroke": "#3a3a3a", "strokeWidth": 2, "opacity": 1},
          "encoding": {
            "x": {"datum": 0.40466, "type": "quantitative", "scale": {"domain": [0, 3]}, "axis": null},
            "y": {"datum": 66915, "type": "quantitative", "scale": {"domain": [0, 70000]}, "axis": null}
          }
        },
        {
          "mark": {"type": "point", "shape": "triangle-down", "size": 30, "filled": true, "color": "#3a3a3a", "opacity": 1},
          "encoding": {
            "x": {"datum": 0.36971, "type": "quantitative", "scale": {"domain": [0, 3]}, "axis": null},
            "y": {"datum": 66548, "type": "quantitative", "scale": {"domain": [0, 70000]}, "axis": null}
          }
        },
        {
          "mark": {"type": "point", "shape": "M-1,-1L1,-1L0.25,0.05L0.25,1L-0.25,0.65L-0.25,0.05Z", "size": 49, "filled": true, "fill": "#ffffff", "stroke": "#3a3a3a", "strokeWidth": 1, "opacity": 1},
          "encoding": {
            "x": {"datum": 1.12937, "type": "quantitative", "scale": {"domain": [0, 3]}, "axis": null},
            "y": {"datum": 52665, "type": "quantitative", "scale": {"domain": [0, 70000]}, "axis": null}
          }
        },
        {
          "mark": {"type": "point", "shape": "M-1,-1L1,-1L0.25,0.05L0.25,1L-0.25,0.65L-0.25,0.05Z", "size": 64, "filled": true, "fill": "#ffffff", "stroke": "#3a3a3a", "strokeWidth": 1, "opacity": 1},
          "encoding": {
            "x": {"datum": 2.93746, "type": "quantitative", "scale": {"domain": [0, 3]}, "axis": null},
            "y": {"datum": 68090, "type": "quantitative", "scale": {"domain": [0, 70000]}, "axis": null}
          }
        },
        {
          "mark": {"type": "text", "text": "IPMv4.1:2020", "font": "DejaVu Sans", "fontSize": 12.5, "fontWeight": "bold", "color": "#1a1a1a", "align": "center", "baseline": "middle"},
          "encoding": {
            "x": {"datum": 0.59963, "type": "quantitative", "scale": {"domain": [0, 3]}, "axis": null},
            "y": {"datum": 52907, "type": "quantitative", "scale": {"domain": [0, 70000]}, "axis": null}
          }
        },
        {
          "mark": {"type": "text", "text": ["IPM’s new units are", "equivalent to ERTAC’s", "GDUs except they", "were assigned at", "state-level."], "font": "Lato", "fontSize": 29.5, "color": "#ff0000", "align": "left", "baseline": "alphabetic", "lineHeight": 38.5},
          "encoding": {
            "x": {"datum": 0.12418, "type": "quantitative", "scale": {"domain": [0, 3]}, "axis": null},
            "y": {"datum": 48625, "type": "quantitative", "scale": {"domain": [0, 70000]}, "axis": null}
          }
        },
        {
          "mark": {"type": "text", "text": ["Generation Deficit Units in SEMAP", "were assigned at unit-level."], "font": "Lato", "fontSize": 29.5, "color": "#ff0000", "align": "left", "baseline": "alphabetic", "lineHeight": 38.5},
          "encoding": {
            "x": {"datum": 1.84488, "type": "quantitative", "scale": {"domain": [0, 3]}, "axis": null},
            "y": {"datum": 66181, "type": "quantitative", "scale": {"domain": [0, 70000]}, "axis": null}
          }
        },
        {
          "mark": {"type": "rule", "color": "#ff0000", "strokeWidth": 2},
          "encoding": {
            "x": {"datum": 0.59596, "type": "quantitative", "scale": {"domain": [0, 3]}, "axis": null},
            "x2": {"datum": 0.77437},
            "y": {"datum": 28059, "type": "quantitative", "scale": {"domain": [0, 70000]}, "axis": null},
            "y2": {"datum": 2204}
          }
        },
        {
          "mark": {"type": "rule", "color": "#ff0000", "strokeWidth": 2},
          "encoding": {
            "x": {"datum": 2.36542, "type": "quantitative", "scale": {"domain": [0, 3]}, "axis": null},
            "x2": {"datum": 2.27713},
            "y": {"datum": 41721, "type": "quantitative", "scale": {"domain": [0, 70000]}, "axis": null},
            "y2": {"datum": 10504}
          }
        },
        {
          "mark": {"type": "rule", "color": "#ff0000", "strokeWidth": 2},
          "encoding": {
            "x": {"datum": 2.36542, "type": "quantitative", "scale": {"domain": [0, 3]}, "axis": null},
            "x2": {"datum": 2.57823},
            "y": {"datum": 41721, "type": "quantitative", "scale": {"domain": [0, 70000]}, "axis": null},
            "y2": {"datum": 2204}
          }
        },
        {
          "mark": {"type": "point", "shape": "M-0.35,-1L0,0L0.35,-1", "size": 1600, "filled": false, "stroke": "#ff0000", "strokeWidth": 2, "angle": -15.4, "opacity": 1},
          "encoding": {
            "x": {"datum": 0.77437, "type": "quantitative", "scale": {"domain": [0, 3]}, "axis": null},
            "y": {"datum": 2204, "type": "quantitative", "scale": {"domain": [0, 70000]}, "axis": null}
          }
        },
        {
          "mark": {"type": "point", "shape": "M-0.35,-1L0,0L0.35,-1", "size": 1600, "filled": false, "stroke": "#ff0000", "strokeWidth": 2, "angle": 6.4, "opacity": 1},
          "encoding": {
            "x": {"datum": 2.27713, "type": "quantitative", "scale": {"domain": [0, 3]}, "axis": null},
            "y": {"datum": 10504, "type": "quantitative", "scale": {"domain": [0, 70000]}, "axis": null}
          }
        },
        {
          "mark": {"type": "point", "shape": "M-0.35,-1L0,0L0.35,-1", "size": 1600, "filled": false, "stroke": "#ff0000", "strokeWidth": 2, "angle": -12.1, "opacity": 1},
          "encoding": {
            "x": {"datum": 2.57823, "type": "quantitative", "scale": {"domain": [0, 3]}, "axis": null},
            "y": {"datum": 2204, "type": "quantitative", "scale": {"domain": [0, 70000]}, "axis": null}
          }
        },
        {
          "mark": {"type": "rule", "color": "#23687a", "strokeWidth": 5},
          "encoding": {
            "x": {"datum": -0.20601, "type": "quantitative", "scale": {"domain": [0, 3]}, "axis": null},
            "x2": {"datum": 3.01103},
            "y": {"datum": -1653, "type": "quantitative", "scale": {"domain": [0, 70000]}, "axis": null}
          }
        },
        {
          "mark": {"type": "rule", "color": "#23687a", "strokeWidth": 2},
          "encoding": {
            "x": {"datum": -0.20454, "type": "quantitative", "scale": {"domain": [0, 3]}, "axis": null},
            "y": {"datum": -1653, "type": "quantitative", "scale": {"domain": [0, 70000]}, "axis": null},
            "y2": {"datum": -10871}
          }
        }
      ]
    }
  ]
}
